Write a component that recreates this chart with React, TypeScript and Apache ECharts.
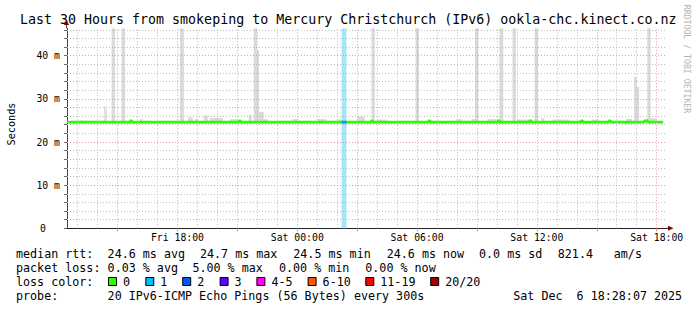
import { useEffect, useRef } from 'react';
import * as echarts from 'echarts';

// ---------- data (x in hours since Fri 00:00, y in ms) ----------
const START_H = 12 + 28 / 60; // Fri 12:28
const END_H = 42 + 28 / 60; // Sat 18:28
const Y_MAX = 46.35;

const xMinorHours = [13, 14, 16, 17, 19, 20, 22, 23, 25, 26, 28, 29, 31, 32, 34, 35, 37, 38, 40, 41];
const xMajorHours = [15, 18, 21, 24, 27, 30, 33, 36, 39, 42];
const xLabelHours = [18, 24, 30, 36, 42];
const yMinorMs = [2, 4, 6, 8, 12, 14, 16, 18, 22, 24, 26, 28, 32, 34, 36, 38, 42, 44, 46];
const yMajorMs = [10, 20, 30, 40];

// median rtt, step-wise
const medianPoints: [number, number][] = [
  [12.4667, 24.6], [15.62, 24.9], [15.72, 24.6], [21.07, 24.9], [21.17, 24.6],
  [27.7, 24.9], [27.8, 24.6], [30.57, 24.9], [30.67, 24.6], [34.03, 24.9],
  [34.13, 24.6], [35.62, 24.9], [35.72, 24.6], [38.2, 24.9], [38.3, 24.6],
  [39.6, 24.9], [39.7, 24.6], [41.38, 24.9], [41.55, 24.6], [42.32, 24.6],
];

// intervals with 1 lost ping
const lossOneSpans: [number, number][] = [[26.2167, 26.4667]];
const lossOneMedian = 24.6;

// smoke: [start hour, end hour, top ms]
const smokeFloor = 24.4;
const smoke: [number, number, number][] = [
  [13.17, 13.32, 25.0], [14.33, 14.4, 28.4], [14.4, 14.46, 27.6], [14.7, 14.87, 46.35],
  [15.2, 15.37, 46.35], [16.12, 16.27, 25.3], [18.12, 18.32, 46.35], [18.52, 18.77, 25.7],
  [18.87, 19.02, 25.3], [19.32, 19.52, 26.2], [19.62, 20.27, 25.6], [20.62, 20.97, 25.3],
  [21.57, 21.72, 26.3], [21.82, 21.98, 46.35], [21.97, 22.08, 41.2], [22.07, 22.32, 27.0],
  [22.32, 22.52, 25.3], [23.77, 24.02, 25.3], [25.02, 25.47, 25.3], [26.02, 26.22, 25.2],
  [27.02, 27.37, 25.9], [27.72, 27.88, 46.35], [27.97, 28.47, 25.2], [29.93, 30.1, 46.35],
  [31.97, 32.27, 25.3], [32.72, 32.97, 25.3], [32.9, 33.07, 46.35], [33.52, 33.97, 25.3],
  [34.12, 34.32, 46.35], [34.78, 34.95, 46.35], [35.02, 35.77, 25.2], [35.88, 36.05, 46.35],
  [36.22, 36.37, 25.5], [36.77, 37.62, 25.2], [38.77, 39.12, 25.2], [40.47, 40.77, 25.4],
  [40.87, 40.99, 35.1], [40.99, 41.12, 32.8], [41.47, 41.97, 25.5], [41.53, 41.7, 46.35],
];

// legend texts
const titleText = 'Last 30 Hours from smokeping to Mercury Christchurch (IPv6) ookla-chc.kinect.co.nz';
const rttStats = ['24.6 ms avg', '24.7 ms max', '24.5 ms min', '24.6 ms now', '0.0 ms sd', '821.4', 'am/s'];
const lossStats = ['0.03 % avg', '5.00 % max', '0.00 % min', '0.00 % now'];
const lossColorLabels = ['0', '1', '2', '3', '4-5', '6-10', '11-19', '20/20'];
const lossColorValues = ['#26ff00', '#00b8ff', '#0059ff', '#5e00ff', '#ff00fe', '#ff5500', '#ff0000', '#a00000'];
const probeText = '20 IPv6-ICMP Echo Pings (56 Bytes) every 300s';
const stampDay = 'Sat Dec';
const stampRest = '6 18:28:07 2025';

// ---------- layout ----------
const MONO = '"DejaVu Sans Mono", monospace';
const rttX = [107.6, 200, 293.3, 386.7, 479, 557.8, 613.8];
const lossX = [107.6, 192.4, 279, 365.3];
const boxX = [108, 145.3, 182.2, 219.6, 256.4, 307.6, 365.3, 430.2];
const rowY = [254, 268, 282, 296];
const GRID_L = 67;
const GRID_T = 28.3;
const GRID_R = 666;
const GRID_B = 228.3;

const txt = (text: string, x: number, y: number, size: number, extra: any = {}, el: any = {}) => ({
  type: 'text',
  x,
  y,
  silent: true,
  ...el,
  style: {
    text,
    font: `${size}px ${MONO}`,
    fill: '#000',
    align: 'left',
    verticalAlign: 'middle',
    textAlign: 'left',
    textVerticalAlign: 'middle',
    ...extra,
  },
});

function pad2(n: number) {
  return n < 10 ? '0' + n : '' + n;
}

export default function App() {
  const ref = useRef<HTMLDivElement>(null);

  useEffect(() => {
    if (!ref.current) return;
    const chart = echarts.init(ref.current, undefined, { renderer: 'svg' });

    const graphics: any[] = [];
    graphics.push(txt(titleText, 20, 19, 13.3));
    graphics.push(
      txt('Seconds', 11, 124, 10.2, { align: 'center', textAlign: 'center' }, { rotation: Math.PI / 2 })
    );
    graphics.push(
      txt('RRDTOOL / TOBI OETIKER', 687, 59, 8.2, { align: 'center', textAlign: 'center', fill: '#b4b4b4' }, { rotation: -Math.PI / 2 })
    );
    // legend rows
    graphics.push(txt('median rtt:', 16, rowY[0], 11.7));
    rttStats.forEach((s, i) => graphics.push(txt(s, rttX[i], rowY[0], 11.7)));
    graphics.push(txt('packet loss:', 16, rowY[1], 11.7));
    lossStats.forEach((s, i) => graphics.push(txt(s, lossX[i], rowY[1], 11.7)));
    graphics.push(txt('loss color:', 16, rowY[2], 11.7));
    lossColorLabels.forEach((s, i) => {
      graphics.push({
        type: 'rect',
        silent: true,
        shape: { x: boxX[i] + 0.5, y: rowY[2] - 4.5, width: 8, height: 8 },
        style: { fill: lossColorValues[i], stroke: '#000', lineWidth: 1 },
      });
      graphics.push(txt(s, boxX[i] + 15, rowY[2], 11.7));
    });
    graphics.push(txt('probe:', 16, rowY[3], 11.7));
    graphics.push(txt(probeText, 107.6, rowY[3], 11.7));
    graphics.push(txt(stampDay, 513.3, rowY[3], 11.7));
    graphics.push(txt(stampRest, 576.6, rowY[3], 11.7));
    // axis extensions and arrows
    graphics.push({
      type: 'line',
      silent: true,
      shape: { x1: GRID_L - 0.5, y1: GRID_T, x2: GRID_L - 0.5, y2: 24 },
      style: { stroke: '#444', lineWidth: 1 },
    });
    graphics.push({
      type: 'polygon',
      silent: true,
      shape: { points: [[GRID_L - 3, 25], [GRID_L + 2, 25], [GRID_L - 0.5, 19.5]] },
      style: { fill: '#7f0000' },
    });
    graphics.push({
      type: 'line',
      silent: true,
      shape: { x1: GRID_R, y1: GRID_B, x2: 669, y2: GRID_B },
      style: { stroke: '#222', lineWidth: 1 },
    });
    graphics.push({
      type: 'polygon',
      silent: true,
      shape: { points: [[668, GRID_B - 2.5], [668, GRID_B + 2.5], [673.5, GRID_B]] },
      style: { fill: '#7f0000' },
    });

    const gridLineSeries = (xs: number[], ys: number[], color: string, z: number) => ({
      type: 'line',
      data: [[START_H, 0]],
      showSymbol: false,
      symbol: 'none',
      lineStyle: { opacity: 0 },
      silent: true,
      z,
      markLine: {
        silent: true,
        symbol: ['none', 'none'],
        label: { show: false },
        emphasis: { disabled: true },
        lineStyle: { color, width: 1, type: [1, 2] },
        data: [...ys.map((v) => ({ yAxis: v })), ...xs.map((v) => ({ xAxis: v }))],
      },
    });

    const rectItem = (color: string, useTop: boolean) => (params: any, api: any) => {
      const x0 = api.value(0);
      const x1 = api.value(1);
      const lo = useTop ? smokeFloor : 0;
      const hi = useTop ? api.value(2) : Y_MAX;
      const p0 = api.coord([x0, hi]);
      const p1 = api.coord([x1, lo]);
      return {
        type: 'rect',
        shape: { x: p0[0], y: p0[1], width: p1[0] - p0[0], height: p1[1] - p0[1] },
        style: { fill: color },
      };
    };

    chart.setOption({
      animation: false,
      backgroundColor: '#ffffff',
      grid: { left: GRID_L, top: GRID_T, right: 697 - GRID_R, bottom: 310 - GRID_B },
      xAxis: {
        type: 'value',
        min: START_H,
        max: END_H,
        axisLine: { show: true, lineStyle: { color: '#222', width: 1 } },
        axisTick: {
          show: true,
          length: 3,
          customValues: xMajorHours,
          lineStyle: { color: '#e28a8a' },
        },
        axisLabel: {
          show: true,
          customValues: xLabelHours,
          margin: 4,
          fontFamily: MONO,
          fontSize: 9.8,
          color: '#000',
          formatter: (v: number) => {
            const day = v < 24 ? 'Fri' : 'Sat';
            const hr = Math.round(v) % 24;
            return `${day} ${pad2(hr)}:00`;
          },
        },
        splitLine: { show: false },
      },
      yAxis: {
        type: 'value',
        min: 0,
        max: Y_MAX,
        interval: 2,
        axisLine: { show: true, lineStyle: { color: '#444', width: 1 } },
        axisTick: { show: true, length: 3, lineStyle: { color: '#666' } },
        axisLabel: {
          margin: 7,
          fontFamily: MONO,
          fontSize: 9.8,
          color: '#000',
          showMaxLabel: false,
          formatter: (v: number) => {
            const r = Math.abs(v % 10);
            if (r > 1e-6 && Math.abs(r - 10) > 1e-6) return '';
            if (Math.abs(v) < 1e-6) return '{z|0}';
            return `${Math.round(v)} m`;
          },
          rich: { z: { padding: [0, 14, 0, 0], fontFamily: MONO, fontSize: 9.8, color: '#000' } },
        },
        splitLine: { show: false },
      },
      series: [
        gridLineSeries(xMinorHours, yMinorMs, '#bdbdbd', 0),
        gridLineSeries(xMajorHours, yMajorMs, '#ec9a9a', 1),
        {
          type: 'custom',
          z: 2,
          silent: true,
          renderItem: rectItem('#a9e5f9', false),
          encode: { x: [0, 1] },
          data: lossOneSpans,
        },
        {
          type: 'custom',
          z: 3,
          silent: true,
          renderItem: rectItem('#dadada', true),
          encode: { x: [0, 1], y: 2 },
          data: smoke,
        },
        {
          type: 'line',
          z: 4,
          silent: true,
          step: 'end',
          symbol: 'none',
          showSymbol: false,
          lineStyle: { color: '#26ff00', width: 2.6 },
          data: medianPoints,
        },
        {
          type: 'line',
          z: 5,
          silent: true,
          symbol: 'none',
          showSymbol: false,
          lineStyle: { color: '#1a94f2', width: 2.6 },
          data: lossOneSpans.flatMap(([a, b]) => [[a, lossOneMedian], [b, lossOneMedian]]),
        },
      ],
      graphic: { elements: graphics },
    });

    return () => {
      chart.dispose();
    };
  }, []);

  return (
    <div
      ref={ref}
      style={{ position: 'fixed', left: 0, top: 0, width: 697, height: 310, background: '#fff' }}
    />
  );
}
